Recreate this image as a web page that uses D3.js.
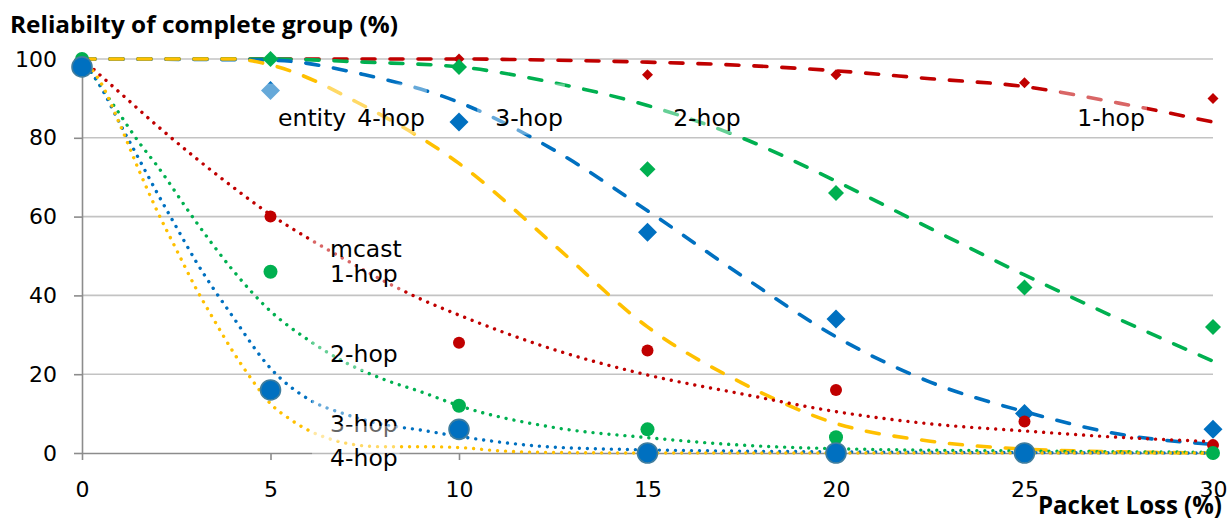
<!DOCTYPE html>
<html><head><meta charset="utf-8">
<script src="https://cdn.jsdelivr.net/npm/d3@7/dist/d3.min.js"></script>
<style>body{margin:0;background:#fff;} svg{display:block;}</style>
</head><body><svg id="chart" width="1232" height="519"></svg>
<script>
// ---------- data ----------
const lossLevels = [0, 5, 10, 15, 20, 25, 30];
const xTicks = [0, 5, 10, 15, 20, 25, 30];
const yTicks = [0, 20, 40, 60, 80, 100];

// measured points (entity = diamonds, mcast = circles)
const entity1hop = [null, null, 100, 96, 96, 94, 90];
const entity2hop = [null, 100, 98, 72, 66, 42, 32];
const entity3hop = [null, 92, 84, 56, 34, 10, 6];
const mcast1hop = [100, 60, 28, 26, 16, 8, 2];
const mcast2hop = [100, 46, 12, 6, 4, 0, 0];
const mcast3hop = [98, 16, 6, 0, 0, 0, null];

// trend lines: [loss, reliability]
const entity1hopTrend = [[0,100],[5,100],[10,100],[12.5,99.7],[15,99.2],[17.5,98.4],[20,97],[22.5,95],[25,93],[27.5,88.8],[30,84]];
const entity2hopTrend = [[0,100],[5,100],[7.5,99.2],[10,98],[12.5,94],[15,88.2],[17.5,80],[20,69],[22.5,57],[25,45.2],[27.5,34],[30,23.3]];
const entity3hopTrend = [[0,100],[5,99.7],[7.5,96],[10,89],[12.5,77],[15,61.5],[17.5,45],[20,29.5],[22.5,18],[25,10.5],[27.5,4.8],[30,2.2]];
const entity4hopTrend = [[0,100],[4,100],[5,98.5],[7.5,88],[10,73.5],[12.5,53],[15,32],[17.5,17.8],[20,7.5],[22.5,3],[25,1],[27.5,0.3],[30,0]];
const mcast1hopTrend = [[0,100],[1,91.5],[2,83],[3,75],[4,67.5],[5,60.5],[6,54.5],[7,49],[8,43.7],[9,39],[10,35],[12.5,26.3],[15,19.8],[17.5,15],[20,10.5],[22.5,7.4],[25,5.6],[27.5,4],[30,2.9]];
const mcast2hopTrend = [[0,100],[0.5,93],[1,86],[1.5,79],[2,72.8],[3,59],[4,46.4],[5,36],[6,28.7],[7,22.9],[8,18.7],[9,15.5],[10,12],[12.5,6.5],[15,3.9],[17.5,2],[20,1.1],[25,0.5],[30,0.2]];
const mcast3hopTrend = [[0,100],[0.5,92.9],[1,83.7],[1.5,74.8],[2,65.9],[2.5,57.4],[3,49],[4,34.6],[5,21.5],[6,13.7],[7,9.8],[8,7.2],[9,5.8],[10,4.2],[12.5,1.5],[15,0.8],[20,0.3],[25,0.1],[30,0]];
const mcast4hopTrend = [[0,100],[0.5,94],[1,83.5],[1.5,72],[2,61.3],[2.5,51.7],[3,42.2],[3.5,33.8],[4,25.8],[4.5,18.7],[5,12.5],[5.5,8.7],[6,5.8],[6.5,3.8],[7,2.5],[7.5,1.8],[8,1.6],[9,1.6],[10,1.4],[11,0.6],[12,0.2],[15,0],[30,0]];

const titleY = "Reliabilty of complete group (%)";
const titleX = "Packet Loss (%)";

// label texts with their anchor (loss, reliability) – layout only
const labelGroups = [
  [["entity", 5.2, 83.1], ["4-hop", 7.3, 83.1]],
  [["3-hop", 10.96, 83.1]],
  [["2-hop", 15.68, 83.1]],
  [["1-hop", 26.4, 83.1]],
  [["mcast", 6.58, 49.8], ["1-hop", 6.58, 43.5]],
  [["2-hop", 6.58, 23.1]],
  [["3-hop", 6.58, 5.4]],
  [["4-hop", 6.58, -3.3]]
];
// extra box space above the first baseline of each label group (layout)
const labelBoxTop = [42, 42, 42, 42, 30, 44, 40, 40];

// ---------- styles ----------
const RED = "#C00000", GREEN = "#00B050", BLUE = "#0070C0", YELLOW = "#FFC000";
const fontMain = "'DejaVu Sans', sans-serif";
const fontBold = "'Open Sans', 'DejaVu Sans', sans-serif";

const svg = d3.select("#chart");
const x = d3.scaleLinear().domain([0, 30]).range([82, 1213]);
const y = d3.scaleLinear().domain([0, 100]).range([453, 59]);

// gridlines
svg.append("g").selectAll("line").data(yTicks.filter(d => d > 0)).join("line")
  .attr("x1", x(0)).attr("x2", x(30))
  .attr("y1", d => y(d)).attr("y2", d => y(d))
  .attr("stroke", "#C3C3C3").attr("stroke-width", 1.6);

// axes
const yAxis = svg.append("g").attr("transform", `translate(${x(0)},0)`)
  .call(d3.axisLeft(y).tickValues(yTicks).tickSize(8).tickSizeOuter(0).tickPadding(17));
const xAxis = svg.append("g").attr("transform", `translate(0,${y(0)})`)
  .call(d3.axisBottom(x).tickValues(xTicks).tickSize(7).tickSizeOuter(0).tickPadding(21));
[yAxis, xAxis].forEach(a => {
  a.selectAll("path.domain").attr("stroke", "#8C8C8C").attr("stroke-width", 1.6);
  a.selectAll(".tick line").attr("stroke", "#8C8C8C").attr("stroke-width", 1.6);
  a.selectAll(".tick text").attr("font-family", fontMain).attr("font-size", 22).attr("fill", "#000");
});

// trend lines
const line = d3.line().x(d => x(d[0])).y(d => y(d[1])).curve(d3.curveMonotoneX);
const trends = [
  [entity1hopTrend, RED, "dash"], [entity2hopTrend, GREEN, "dash"],
  [entity3hopTrend, BLUE, "dash"], [entity4hopTrend, YELLOW, "dash"],
  [mcast1hopTrend, RED, "dot"], [mcast2hopTrend, GREEN, "dot"],
  [mcast3hopTrend, BLUE, "dot"], [mcast4hopTrend, YELLOW, "dot"]
];
const trendG = svg.append("g");
trends.forEach(([data, color, kind]) => {
  trendG.append("path").datum(data).attr("d", line)
    .attr("fill", "none").attr("stroke", color)
    .attr("stroke-width", kind === "dash" ? 3.6 : 3.4)
    .attr("stroke-linecap", "round")
    .attr("stroke-dasharray", kind === "dash" ? "13,15" : "0.01,8");
});

// markers
const markG = svg.append("g");
const pts = arr => lossLevels.map((l, i) => [l, arr[i]]).filter(d => d[1] !== null);
const diamond = (arr, color, half) => {
  const sym = d3.symbol(d3.symbolSquare, 2 * half * half)();
  markG.append("g").selectAll("path").data(pts(arr)).join("path")
    .attr("d", sym)
    .attr("transform", d => `translate(${x(d[0])},${y(d[1])}) rotate(45)`)
    .attr("fill", color);
};
const circle = (arr, color, r, stroke) => {
  markG.append("g").selectAll("circle").data(pts(arr)).join("circle")
    .attr("cx", d => x(d[0])).attr("cy", d => y(d[1])).attr("r", r)
    .attr("fill", color)
    .attr("stroke", stroke || "none").attr("stroke-width", stroke ? 1.6 : 0);
};
diamond(entity1hop, RED, 5.5);
diamond(entity2hop, GREEN, 8);
diamond(entity3hop, BLUE, 9.5);
circle(mcast1hop, RED, 6);
circle(mcast2hop, GREEN, 7);
circle(mcast3hop, BLUE, 10, "#3F7D9E");

// data labels with semi-transparent boxes
const labG = svg.append("g");
labelGroups.forEach((group, gi) => {
  const g = labG.append("g");
  const rect = g.append("rect");
  const tg = g.append("g");
  group.forEach(([t, lx, ly]) => {
    tg.append("text").attr("x", x(lx)).attr("y", y(ly))
      .attr("font-family", fontMain).attr("font-size", 23.5).attr("fill", "#000").text(t);
  });
  const bb = tg.node().getBBox();
  const topBase = d3.min(group, d => y(d[2]));
  const botBase = d3.max(group, d => y(d[2]));
  const top = topBase - labelBoxTop[gi];
  rect.attr("x", bb.x - 18).attr("y", top)
    .attr("width", bb.width + 20).attr("height", botBase + 9 - top)
    .attr("fill", "#fff").attr("fill-opacity", 0.4);
});

// axis titles
svg.append("text").attr("x", 10).attr("y", 32.5)
  .attr("font-family", fontBold).attr("font-weight", 700).attr("font-size", 24)
  .attr("textLength", 388).attr("lengthAdjust", "spacingAndGlyphs").text(titleY);
svg.append("text").attr("x", 1038).attr("y", 514)
  .attr("font-family", fontBold).attr("font-weight", 700).attr("font-size", 25)
  .attr("textLength", 184).attr("lengthAdjust", "spacingAndGlyphs").text(titleX);
</script>
</body></html>
